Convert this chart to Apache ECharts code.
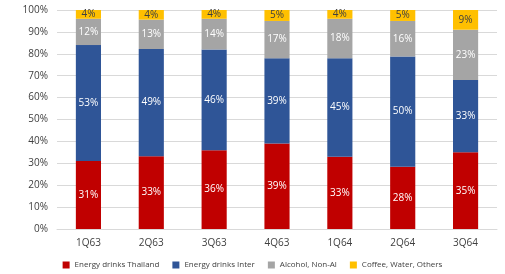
<!DOCTYPE html>
<html>
<head>
<meta charset="utf-8">
<title>Sales mix</title>
<script src="https://cdn.jsdelivr.net/npm/echarts@6/dist/echarts.min.js"></script>
<style>
  html, body { margin: 0; padding: 0; background: #fff; }
  #chart { width: 505px; height: 274px; }
</style>
</head>
<body>
<div id="chart"></div>
<script>
var quarters = ['1Q63', '2Q63', '3Q63', '4Q63', '1Q64', '2Q64', '3Q64'];
var energyThai = [31, 33.2, 36, 39, 33, 28.4, 35];
var energyInter = [53, 49, 46, 39, 45, 50.4, 33];
var alcohol = [12, 13.4, 14, 17, 18, 16.2, 23];
var coffee = [4, 4.4, 4, 5, 4, 5, 9];
var yTicks = [0, 10, 20, 30, 40, 50, 60, 70, 80, 90, 100];

var chart = echarts.init(document.getElementById('chart'));

function makeSeries(name, data, color, labelColor) {
  return {
    name: name,
    type: 'bar',
    stack: 'total',
    data: data,
    barWidth: '40%',
    itemStyle: { color: color },
    label: {
      show: true,
      position: 'inside',
      color: labelColor,
      fontSize: 10,
      fontFamily: 'Open Sans',
      formatter: function (p) { return Math.round(p.value) + '%'; }
    }
  };
}

var option = {
  animation: false,
  textStyle: { fontFamily: 'Open Sans' },
  grid: { left: 57, right: 8, top: 10, bottom: 45 },
  xAxis: {
    type: 'category',
    data: quarters,
    axisLine: { lineStyle: { color: '#d9d9d9' } },
    axisTick: { show: false },
    axisLabel: { color: '#404040', fontSize: 10, margin: 9 }
  },
  yAxis: {
    type: 'value',
    min: yTicks[0],
    max: yTicks[yTicks.length - 1],
    interval: 10,
    axisLine: { show: false },
    axisTick: { show: false },
    splitLine: { lineStyle: { color: '#d9d9d9' } },
    axisLabel: { color: '#404040', fontSize: 10, margin: 9, formatter: '{value}%' }
  },
  legend: {
    bottom: 0,
    left: 'center',
    itemWidth: 7,
    itemHeight: 7,
    itemGap: 13,
    icon: 'rect',
    textStyle: { color: '#404040', fontSize: 8 },
    data: ['Energy drinks Thailand', 'Energy drinks Inter', 'Alcohol, Non-Al', 'Coffee, Water, Others']
  },
  series: [
    makeSeries('Energy drinks Thailand', energyThai, '#C00000', '#fff'),
    makeSeries('Energy drinks Inter', energyInter, '#2F5597', '#fff'),
    makeSeries('Alcohol, Non-Al', alcohol, '#A5A5A5', '#fff'),
    makeSeries('Coffee, Water, Others', coffee, '#FFC000', '#404040')
  ]
};

chart.setOption(option);
</script>
</body>
</html>
